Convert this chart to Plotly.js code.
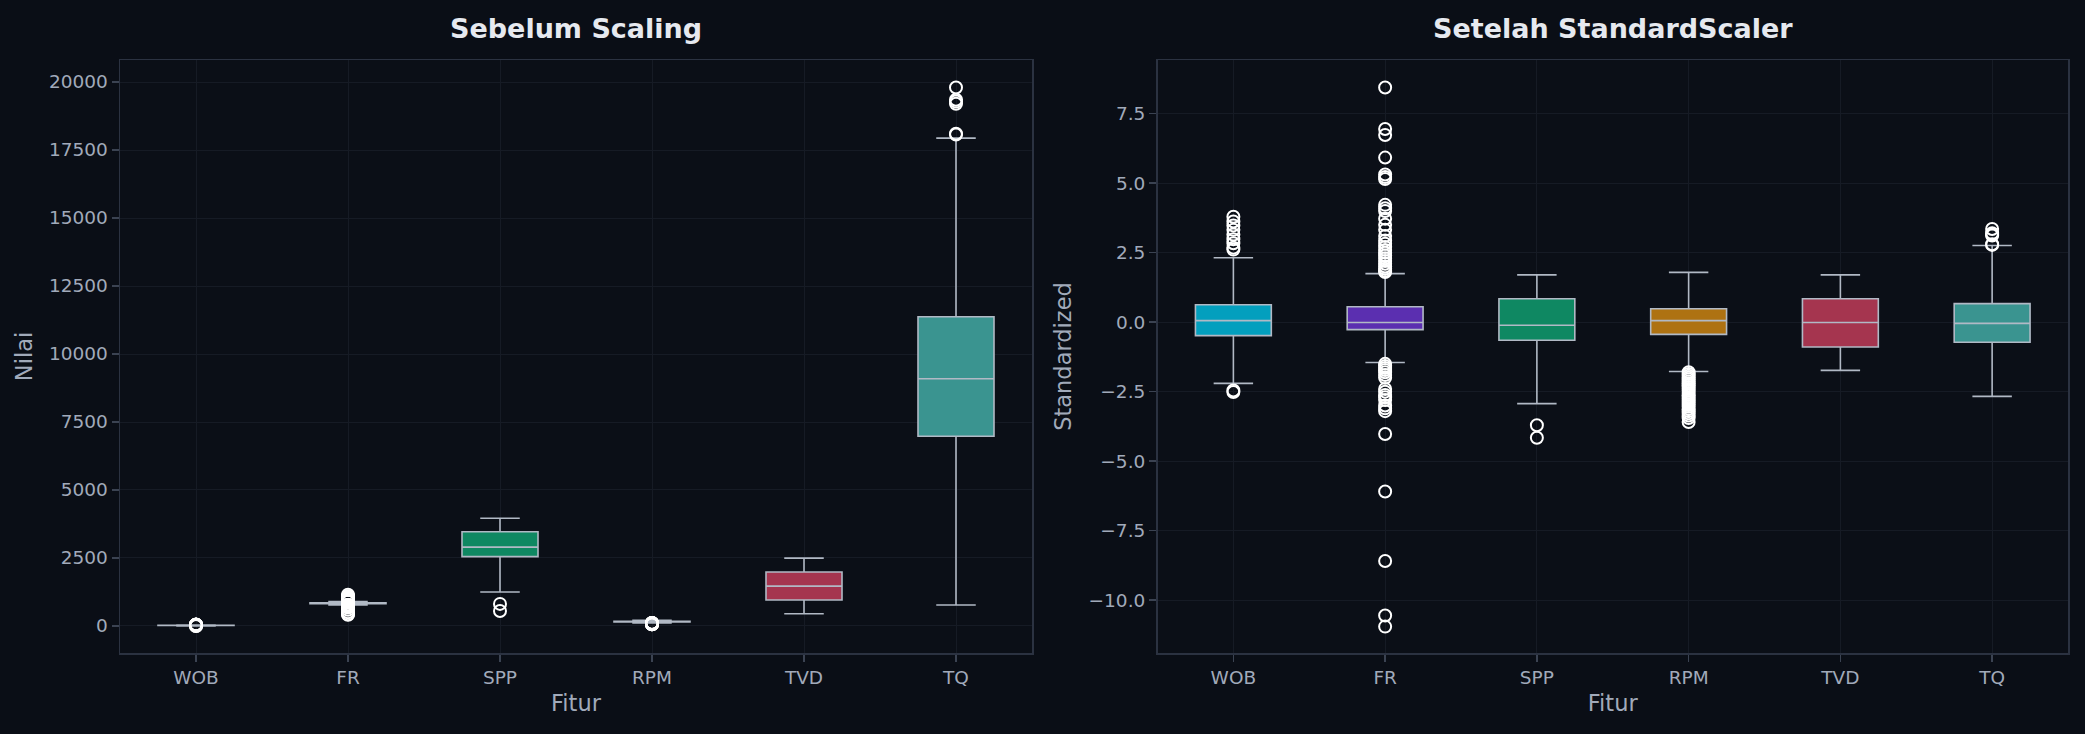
<!DOCTYPE html>
<html>
<head>
<meta charset="utf-8">
<script src="https://cdn.plot.ly/plotly-3.0.1.min.js"></script>
<style>
  html, body { margin: 0; padding: 0; background: #0a0e16; }
  #chart { width: 2085px; height: 734px; }
</style>
</head>
<body>
<div id="chart"></div>
<script>
// Features shown on both panels
const features = ['WOB', 'FR', 'SPP', 'RPM', 'TVD', 'TQ'];

// Raw values (before scaling): box statistics per feature
const rawQ1 = [16.1, 820, 2552, 147.7, 957, 6975];
const rawMedian = [20.5, 829.5, 2900, 161.6, 1465, 9092];
const rawQ3 = [25.0, 851, 3466, 173.5, 1987, 11368];
const rawLowerWhisker = [2.4, 775, 1247, 110.3, 450, 769];
const rawUpperWhisker = [38.5, 896, 3959, 210.1, 2494, 17937];

// Raw outliers per feature
const rawOutWOB = [50.3, 49.0, 47.8, 46.6, 45.2, 43.8, 42.7, 41.4, 40.9, 0.3, 0.0];
const rawOutFR = [1151, 1094, 1086, 1055, 1032, 1028, 1026, 990, 986, 982, 971, 963, 956, 948, 942, 937,
                  933, 929, 925, 921, 917, 914, 910, 906, 903, 900, 898,
                  773, 770, 767, 765, 762, 758, 754, 739, 735, 730, 727, 724, 716, 712, 708, 677, 599, 504, 429, 414];
const rawOutSPP = [812, 551];
const rawOutRPM = [109.6, 107.9, 106.0, 104.0, 102.3, 100.4, 98.4, 96.4, 94.5, 92.8, 90.8, 88.6, 86.6,
                   84.4, 82.7, 80.8, 78.8, 76.8, 74.9, 72.6, 70.4, 68.2, 65.9, 63.4, 59.5];
const rawOutTVD = [];
const rawOutTQ = [19800, 19350, 19280, 19200, 18100, 18070];

// Standardized values (after StandardScaler): box statistics per feature
const stdQ1 = [-0.483, -0.27, -0.65, -0.44, -0.895, -0.724];
const stdMedian = [0.057, -0.014, -0.11, 0.057, -0.014, -0.043];
const stdQ3 = [0.625, 0.554, 0.84, 0.483, 0.84, 0.668];
const stdLowerWhisker = [-2.20, -1.449, -2.93, -1.776, -1.733, -2.67];
const stdUpperWhisker = [2.315, 1.747, 1.70, 1.79, 1.70, 2.756];

// Standardized outliers per feature
const stdOutWOB = [3.79, 3.62, 3.48, 3.32, 3.15, 2.98, 2.84, 2.68, 2.61, -2.46, -2.51];
const stdOutFR = [8.44, 6.95, 6.73, 5.92, 5.31, 5.22, 5.15, 4.22, 4.10, 4.00, 3.72, 3.50, 3.32, 3.10, 2.94, 2.82,
                  2.70, 2.60, 2.50, 2.40, 2.30, 2.20, 2.10, 2.00, 1.92, 1.85, 1.80,
                  -1.50, -1.58, -1.65, -1.72, -1.80, -1.90, -2.00, -2.40, -2.50, -2.62, -2.70, -2.80, -3.00,
                  -3.10, -3.20, -4.02, -6.09, -8.59, -10.55, -10.95];
const stdOutSPP = [-3.71, -4.16];
const stdOutRPM = [-1.80, -1.86, -1.93, -2.00, -2.06, -2.13, -2.20, -2.27, -2.34, -2.40, -2.47, -2.55, -2.62,
                   -2.70, -2.76, -2.83, -2.90, -2.97, -3.04, -3.12, -3.20, -3.28, -3.36, -3.45, -3.59];
const stdOutTVD = [];
const stdOutTQ = [3.35, 3.20, 3.15, 3.12, 2.80, 2.78];

const rawOutliers = [rawOutWOB, rawOutFR, rawOutSPP, rawOutRPM, rawOutTVD, rawOutTQ];
const stdOutliers = [stdOutWOB, stdOutFR, stdOutSPP, stdOutRPM, stdOutTVD, stdOutTQ];

// Styling
const boxColors = ['#039fbe', '#5b2fb0', '#0f8862', '#ae7212', '#a5354f', '#3a9490'];
const BG = '#0a0e16';
const PLOT_BG = '#0b0f17';
const GRID = '#161b25';
const FRAME = '#2b3241';
const TICK_TXT = '#a1aaba';
const FONT = 'DejaVu Sans';

function panelTraces(q1, med, q3, lo, hi, outs, xa, ya) {
  const boxes = features.map((f, i) => ({
    type: 'box',
    x: [f],
    q1: [q1[i]], median: [med[i]], q3: [q3[i]],
    lowerfence: [lo[i]], upperfence: [hi[i]],
    boxpoints: false,
    width: 0.5,
    whiskerwidth: 0.52,
    fillcolor: boxColors[i],
    line: { color: '#b1b9c5', width: 1.6 },
    xaxis: xa, yaxis: ya,
    showlegend: false,
    hoverinfo: 'skip'
  }));
  const points = features.map((f, i) => ({
    type: 'scatter',
    mode: 'markers',
    x: outs[i].map(() => f),
    y: outs[i],
    marker: { symbol: 'circle-open', size: 12, color: '#ffffff', line: { width: 2, color: '#ffffff' } },
    xaxis: xa, yaxis: ya,
    showlegend: false,
    hoverinfo: 'skip'
  }));
  return boxes.concat(points);
}

const data = panelTraces(rawQ1, rawMedian, rawQ3, rawLowerWhisker, rawUpperWhisker, rawOutliers, 'x', 'y')
  .concat(panelTraces(stdQ1, stdMedian, stdQ3, stdLowerWhisker, stdUpperWhisker, stdOutliers, 'x2', 'y2'));

const W = 2085, H = 734;
const M = { l: 120, r: 17, t: 60, b: 81 };
const plotW = W - M.l - M.r;

function xAxis(domain, anchor) {
  return {
    domain: domain, anchor: anchor,
    type: 'category', categoryorder: 'array', categoryarray: features,
    range: [-0.5, 5.5],
    showgrid: true, gridcolor: GRID, gridwidth: 1,
    showline: true, mirror: true, linecolor: FRAME, linewidth: 1.5,
    ticks: 'outside', ticklen: 7, tickwidth: 1.5, tickcolor: '#3b4352',
    tickfont: { family: FONT, size: 18.5, color: TICK_TXT },
    title: { text: 'Fitur', font: { family: FONT, size: 22.5, color: TICK_TXT }, standoff: 8 },
    zeroline: false, automargin: false, fixedrange: true
  };
}

function yAxis(anchor, range, dtick, fmt, titleText) {
  return {
    anchor: anchor, domain: [0, 1],
    range: range, dtick: dtick, tick0: 0, tickformat: fmt,
    showgrid: true, gridcolor: GRID, gridwidth: 1,
    showline: true, mirror: true, linecolor: FRAME, linewidth: 1.5,
    ticks: 'outside', ticklen: 7, tickwidth: 1.5, tickcolor: '#3b4352',
    tickfont: { family: FONT, size: 18.5, color: TICK_TXT },
    title: { text: titleText, font: { family: FONT, size: 22.5, color: TICK_TXT }, standoff: 10 },
    zeroline: false, automargin: false, fixedrange: true
  };
}

const leftDomain = [0, (1032 - M.l) / plotW];
const rightDomain = [(1157.5 - M.l) / plotW, 1];

const layout = {
  width: W, height: H,
  margin: M,
  paper_bgcolor: BG, plot_bgcolor: PLOT_BG,
  font: { family: FONT, color: TICK_TXT },
  boxmode: 'overlay',
  showlegend: false,
  xaxis: xAxis(leftDomain, 'y'),
  yaxis: yAxis('x', [-993, 20809], 2500, 'd', 'Nilai'),
  xaxis2: xAxis(rightDomain, 'y2'),
  yaxis2: yAxis('x2', [-11.90, 9.43], 2.5, '.1f', 'Standardized'),
  annotations: [
    { text: '<b>Sebelum Scaling</b>', xref: 'paper', yref: 'paper',
      x: (leftDomain[0] + leftDomain[1]) / 2, y: 1, xanchor: 'center', yanchor: 'bottom', yshift: 14,
      showarrow: false, font: { family: FONT, size: 27, color: '#e6e9ef' } },
    { text: '<b>Setelah StandardScaler</b>', xref: 'paper', yref: 'paper',
      x: (rightDomain[0] + rightDomain[1]) / 2, y: 1, xanchor: 'center', yanchor: 'bottom', yshift: 14,
      showarrow: false, font: { family: FONT, size: 27, color: '#e6e9ef' } }
  ]
};

Plotly.newPlot('chart', data, layout, { staticPlot: true, displayModeBar: false });
</script>
</body>
</html>
